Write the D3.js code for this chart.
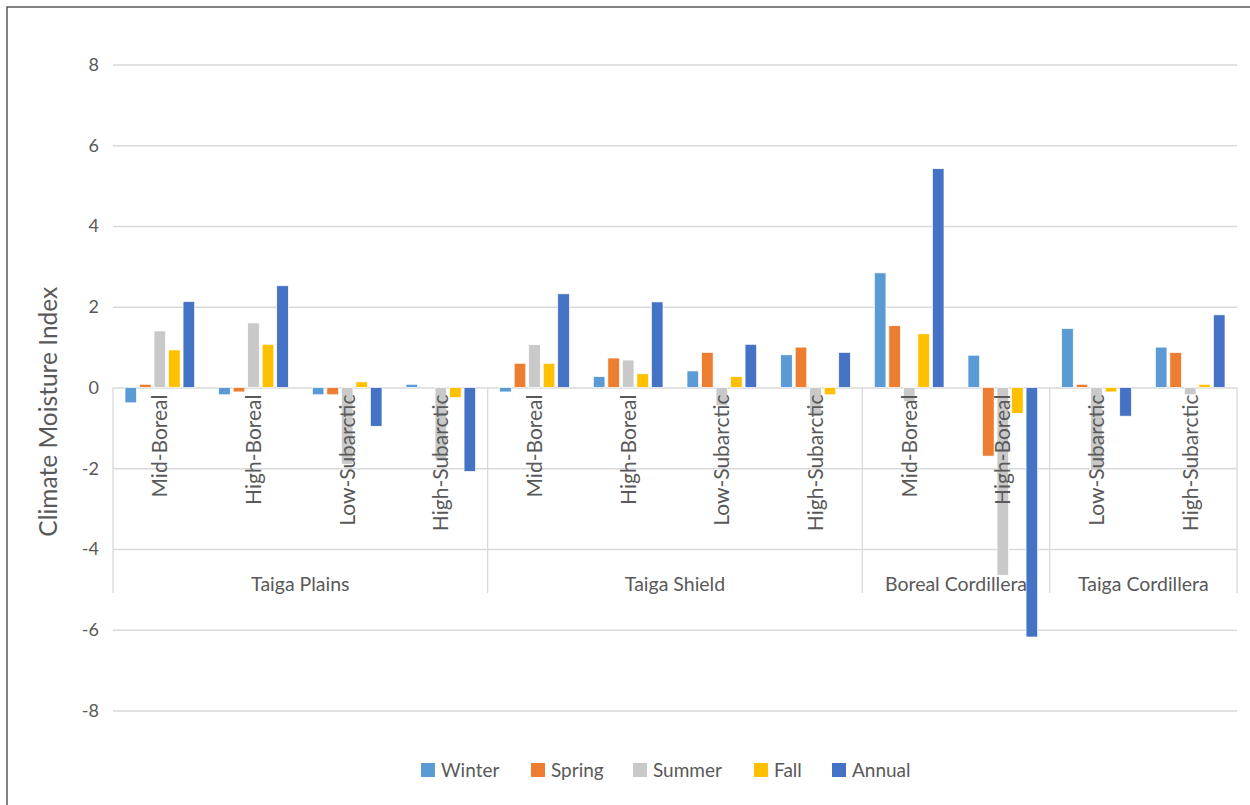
<!DOCTYPE html>
<html>
<head>
<meta charset="utf-8">
<script src="https://cdn.jsdelivr.net/npm/d3@7"></script>
<style>
  body { margin: 0; background: #fff; }
  text { font-family: Lato, "Open Sans", sans-serif; fill: #595959; }
</style>
</head>
<body>
<svg id="chart" width="1250" height="805"></svg>
<script>
// regions and zones, in plotting order
var groups = ["Taiga Plains", "Taiga Shield", "Boreal Cordillera", "Taiga Cordillera"];
var zones = ["Mid-Boreal", "High-Boreal", "Low-Subarctic", "High-Subarctic",
             "Mid-Boreal", "High-Boreal", "Low-Subarctic", "High-Subarctic",
             "Mid-Boreal", "High-Boreal",
             "Low-Subarctic", "High-Subarctic"];
var groupStarts = [0, 4, 8, 10, 12];

var seriesNames = ["Winter", "Spring", "Summer", "Fall", "Annual"];
var seriesColors = ["#5B9BD5", "#ED7D31", "#C9C9C9", "#FFC000", "#4472C4"];

var winter = [-0.38, -0.18, -0.18, 0.08, -0.11, 0.27, 0.41, 0.81, 2.84, 0.80, 1.46, 1.00];
var spring = [0.08, -0.11, -0.18, 0.00, 0.60, 0.73, 0.87, 1.00, 1.53, -1.70, 0.08, 0.87];
var summer = [1.40, 1.60, -1.90, -1.80, 1.06, 0.68, -0.45, -0.65, -0.35, -4.65, -2.05, -0.18];
var fall   = [0.93, 1.07, 0.14, -0.25, 0.60, 0.34, 0.27, -0.18, 1.33, -0.64, -0.11, 0.08];
var annual = [2.13, 2.52, -0.96, -2.08, 2.32, 2.12, 1.07, 0.87, 5.42, -6.18, -0.71, 1.80];

var yTicks = [-8, -6, -4, -2, 0, 2, 4, 6, 8];

var svg = d3.select("#chart");
var plotLeft = 113, plotRight = 1237, plotTop = 64.5, plotBottom = 710.5;

var x0 = d3.scaleBand().domain(d3.range(zones.length)).range([plotLeft, plotRight]).padding(0);
var bw = x0.bandwidth();
var x1 = d3.scaleBand().domain(seriesNames).range([12, bw - 12]).paddingInner(0.2);
var y = d3.scaleLinear().domain([-8, 8]).range([plotBottom, plotTop]);

// chart frame (only top/left edges show in the picture)
svg.append("rect")
  .attr("x", 7).attr("y", 7).attr("width", 1300).attr("height", 900)
  .attr("fill", "none").attr("stroke", "#404040").attr("stroke-width", 1.3);

// y axis with gridlines
var yAxis = svg.append("g")
  .attr("transform", "translate(" + plotLeft + ",0)")
  .call(d3.axisLeft(y).tickValues(yTicks)
    .tickFormat(function(d) { return String(d); })
    .tickSize(-(plotRight - plotLeft)).tickPadding(14));
yAxis.select(".domain").remove();
yAxis.selectAll(".tick line").attr("stroke", "#D9D9D9").attr("stroke-width", 1.3);
yAxis.selectAll(".tick text")
  .attr("fill", "#595959")
  .style("font-size", "18px")
  .style("font-family", "Lato, 'Open Sans', sans-serif");

// category separators under the zero line
var seps = groupStarts.map(function(i) {
  return i < zones.length ? x0(i) : plotRight;
});
svg.append("g").selectAll("line").data(seps).join("line")
  .attr("x1", function(d) { return d; })
  .attr("x2", function(d) { return d; })
  .attr("y1", y(0))
  .attr("y2", 593)
  .attr("stroke", "#D9D9D9").attr("stroke-width", 1.3);

// bars
var table = zones.map(function(z, i) {
  return [winter[i], spring[i], summer[i], fall[i], annual[i]];
});
var cat = svg.append("g").selectAll("g").data(table).join("g")
  .attr("transform", function(d, i) { return "translate(" + x0(i) + ",0)"; });
cat.selectAll("rect")
  .data(function(d) { return d.map(function(v, k) { return {k: k, v: v}; }); })
  .join("rect")
  .attr("x", function(d) { return x1(seriesNames[d.k]); })
  .attr("width", x1.bandwidth())
  .attr("y", function(d) { return y(Math.max(0, d.v)); })
  .attr("height", function(d) { return Math.abs(y(d.v) - y(0)); })
  .attr("fill", function(d) { return seriesColors[d.k]; })
  .attr("stroke", "#fff").attr("stroke-width", 0.7);

// zone labels (rotated) drawn over the bars
svg.append("g").selectAll("text").data(zones).join("text")
  .attr("transform", function(d, i) {
    return "translate(" + (x0(i) + bw / 2) + "," + (y(0) + 7) + ") rotate(-90)";
  })
  .attr("text-anchor", "end")
  .attr("dy", "0.35em")
  .style("font-size", "21px")
  .text(function(d) { return d; });

// region labels
svg.append("g").selectAll("text").data(groups).join("text")
  .attr("x", function(d, g) { return (seps[g] + seps[g + 1]) / 2; })
  .attr("y", 584)
  .attr("text-anchor", "middle")
  .attr("dy", "0.35em")
  .style("font-size", "19.5px")
  .text(function(d) { return d; });

// y title
svg.append("text")
  .attr("transform", "translate(48," + y(-0.6) + ") rotate(-90)")
  .attr("text-anchor", "middle")
  .attr("dy", "0.35em")
  .style("font-size", "24.5px")
  .text("Climate Moisture Index");

// legend
var legendX = [421, 531, 633, 754, 832];
var leg = svg.append("g").selectAll("g").data(seriesNames).join("g")
  .attr("transform", function(d, i) { return "translate(" + legendX[i] + ",763)"; });
leg.append("rect")
  .attr("width", 14).attr("height", 14)
  .attr("fill", function(d, i) { return seriesColors[i]; });
leg.append("text")
  .attr("x", 20).attr("y", 7).attr("dy", "0.35em")
  .style("font-size", "19px")
  .text(function(d) { return d; });
</script>
</body>
</html>
